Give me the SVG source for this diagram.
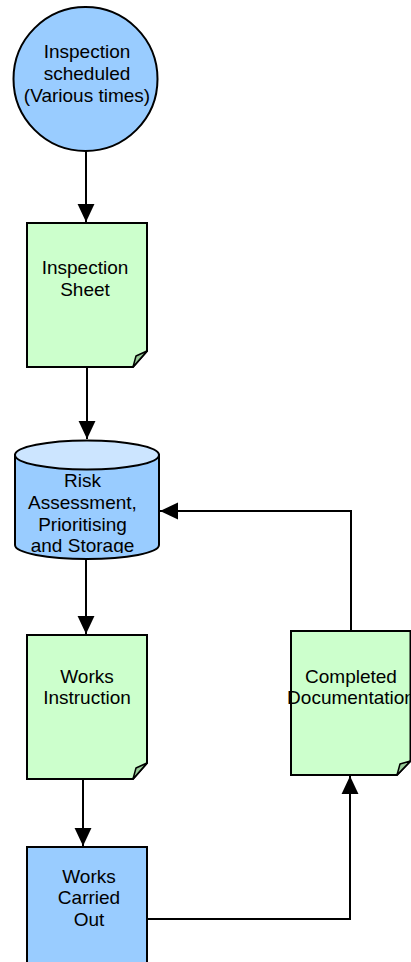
<svg xmlns="http://www.w3.org/2000/svg" width="411" height="962" viewBox="0 0 411 962">
<style>
.t{font-family:"Liberation Sans",Arial,sans-serif;font-size:19px;fill:#000;text-anchor:middle}
.shp{stroke:#000;stroke-width:2}
.doc{fill:#ccffcc}
.fold{fill:#99cc99;stroke:#000;stroke-width:1.5;stroke-linejoin:round}
.blue{fill:#99ccff}
.c{fill:none;stroke:#000;stroke-width:2}
</style>
<defs>
<marker id="ah" markerUnits="userSpaceOnUse" markerWidth="18" markerHeight="18" viewBox="0 0 16 15" refX="16" refY="7.5" orient="auto">
<path d="M0 0 L16 7.5 L0 15 Z" fill="#000"/>
</marker>
<clipPath id="cyl"><rect x="15" y="440" width="144" height="113"/></clipPath>
</defs>
<g id="connectors">
<path class="c" d="M86 151 L86 222" marker-end="url(#ah)"/>
<path class="c" d="M87 367 L87 439" marker-end="url(#ah)"/>
<path class="c" d="M86 559 L86 634" marker-end="url(#ah)"/>
<path class="c" d="M83 779 L83 846" marker-end="url(#ah)"/>
<path class="c" d="M147 919 L350 919 L350 776" marker-end="url(#ah)"/>
<path class="c" d="M351 631 L351 511 L160 511" marker-end="url(#ah)"/>
</g>
<g id="inspection-scheduled">
<circle class="shp blue" cx="85.5" cy="79" r="72"/>
<text class="t" x="87" y="58">Inspection</text>
<text class="t" x="87" y="80">scheduled</text>
<text class="t" x="87" y="102">(Various times)</text>
</g>
<g id="inspection-sheet">
<path class="shp doc" d="M27 223 L147 223 L147 351 L133 367 L27 367 Z"/>
<path class="fold" d="M133 367 L136 356 L147 351 Z"/>
<text class="t" x="85" y="274">Inspection</text>
<text class="t" x="85" y="296">Sheet</text>
</g>
<g id="risk-assessment">
<path class="shp blue" d="M15 455 L15 545 A72 14 0 0 0 159 545 L159 455 Z"/>
<ellipse class="shp" cx="87" cy="455" rx="72" ry="14.5" fill="#cce5ff"/>
<g clip-path="url(#cyl)">
<text class="t" x="82.5" y="487">Risk</text>
<text class="t" x="82.5" y="509">Assessment,</text>
<text class="t" x="82.5" y="531">Prioritising</text>
<text class="t" x="82.5" y="552">and Storage</text>
</g>
</g>
<g id="works-instruction">
<path class="shp doc" d="M27 635 L147 635 L147 763 L133 779 L27 779 Z"/>
<path class="fold" d="M133 779 L136 768 L147 763 Z"/>
<text class="t" x="87" y="683">Works</text>
<text class="t" x="87" y="704">Instruction</text>
</g>
<g id="works-carried-out">
<rect class="shp blue" x="27" y="847" width="120" height="130"/>
<text class="t" x="89" y="883">Works</text>
<text class="t" x="89" y="904">Carried</text>
<text class="t" x="89" y="926">Out</text>
</g>
<g id="completed-documentation">
<path class="shp doc" d="M291 631 L410.5 631 L410.5 761 L397 775 L291 775 Z"/>
<path class="fold" d="M397 775 L400 764 L410.5 761 Z"/>
<text class="t" x="351" y="683">Completed</text>
<text class="t" x="351" y="704">Documentation</text>
</g>
</svg>
